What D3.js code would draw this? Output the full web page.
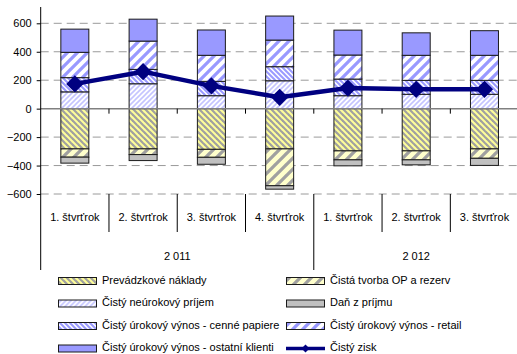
<!DOCTYPE html>
<html>
<head>
<meta charset="utf-8">
<script src="https://cdn.jsdelivr.net/npm/d3@7"></script>
<style>
  html, body { margin: 0; padding: 0; background: #fff; }
  svg { display: block; font-family: "Liberation Sans", Arial, sans-serif; }
</style>
</head>
<body>
<svg id="chart" width="517" height="354"></svg>
<script>
// Quarterly results (mil.), 2011–2012
const quarters = ["1. štvrťrok", "2. štvrťrok", "3. štvrťrok", "4. štvrťrok", "1. štvrťrok", "2. štvrťrok", "3. štvrťrok"];
const years = [{ label: "2 011", count: 4 }, { label: "2 012", count: 3 }];

const nonInterest   = [118, 175, 91, 196, 91, 101, 101];   // Čistý neúrokový príjem
const securities    = [100, 101, 101, 99, 117, 98, 98];     // Čistý úrokový výnos - cenné papiere
const retail        = [178, 199, 183, 187, 169, 176, 176];  // Čistý úrokový výnos - retail
const otherClients  = [163, 154, 178, 169, 175, 158, 173];  // Čistý úrokový výnos - ostatní klienti
const operatingCost = [-283, -283, -286, -283, -297, -297, -283]; // Prevádzkové náklady
const provisions    = [-58, -40, -56, -259, -63, -63, -66];  // Čistá tvorba OP a rezerv
const incomeTax     = [-42, -42, -49, -24, -42, -35, -50];   // Daň z príjmu
const netProfit     = [174, 260, 160, 80, 145, 136, 136];    // Čistý zisk

const yTicks = [-600, -400, -200, 0, 200, 400, 600];

const series = [
  { key: "nonInterest",   name: "Čistý neúrokový príjem",                values: nonInterest,   fill: "url(#pNonInterest)" },
  { key: "securities",    name: "Čistý úrokový výnos - cenné papiere",   values: securities,    fill: "url(#pSecurities)" },
  { key: "retail",        name: "Čistý úrokový výnos - retail",          values: retail,        fill: "url(#pRetail)" },
  { key: "otherClients",  name: "Čistý úrokový výnos - ostatní klienti", values: otherClients,  fill: "#9999ff" },
  { key: "operatingCost", name: "Prevádzkové náklady",                   values: operatingCost, fill: "url(#pCost)" },
  { key: "provisions",    name: "Čistá tvorba OP a rezerv",              values: provisions,    fill: "url(#pProvisions)" },
  { key: "incomeTax",     name: "Daň z príjmu",                          values: incomeTax,     fill: "#c0c0c0" }
];

const rows = quarters.map((q, i) => {
  const r = { idx: i };
  series.forEach(s => r[s.key] = s.values[i]);
  return r;
});

const svg = d3.select("#chart");
const defs = svg.append("defs");

function stripes(id, size, bg, fg, width, dir) {
  const p = defs.append("pattern").attr("id", id)
    .attr("patternUnits", "userSpaceOnUse")
    .attr("width", size).attr("height", size);
  p.append("rect").attr("width", size).attr("height", size).attr("fill", bg);
  const g = p.append("g").attr("stroke", fg).attr("stroke-width", width).attr("stroke-linecap", "square");
  if (dir === "down") {
    g.append("line").attr("x1", 0).attr("y1", 0).attr("x2", size).attr("y2", size);
    g.append("line").attr("x1", -size).attr("y1", 0).attr("x2", 0).attr("y2", size);
    g.append("line").attr("x1", size).attr("y1", 0).attr("x2", 2 * size).attr("y2", size);
  } else {
    g.append("line").attr("x1", 0).attr("y1", size).attr("x2", size).attr("y2", 0);
    g.append("line").attr("x1", -size).attr("y1", size).attr("x2", 0).attr("y2", 0);
    g.append("line").attr("x1", size).attr("y1", size).attr("x2", 2 * size).attr("y2", 0);
  }
}
stripes("pCost", 6, "#ffff99", "#a0a0a0", 2.2, "down");
stripes("pProvisions", 11, "#ffffcc", "#a0a0a0", 3.2, "up");
stripes("pNonInterest", 5, "#ffffff", "#c4c4ff", 1.6, "up");
stripes("pSecurities", 5, "#ffffff", "#9999ff", 2.0, "down");
stripes("pRetail", 10, "#ffffff", "#9999ff", 3.2, "up");

// Plot geometry
const plotLeft = 40.7, plotRight = 518.6, plotTop = 7;
const y = d3.scaleLinear().domain([-600, 600]).range([194, 23.3]);
const x = d3.scaleBand().domain(d3.range(quarters.length)).range([plotLeft, plotRight]).padding(0);
const barW = x.bandwidth() * 0.41;
const cx = i => x(i) + x.bandwidth() / 2;

// Gridlines
svg.append("g").selectAll("line").data(yTicks.filter(t => t !== 0)).join("line")
  .attr("x1", plotLeft).attr("x2", 517)
  .attr("y1", d => y(d)).attr("y2", d => y(d))
  .attr("stroke", "#9a9a9a").attr("stroke-width", 1)
  .attr("stroke-dasharray", "8,5");

// Stacked bars
const stack = d3.stack().keys(series.map(s => s.key)).offset(d3.stackOffsetDiverging);
const stacked = stack(rows);
const barG = svg.append("g");
stacked.forEach((layer, li) => {
  barG.append("g").selectAll("rect").data(layer).join("rect")
    .attr("x", (d, i) => cx(i) - barW / 2)
    .attr("width", barW)
    .attr("y", d => y(Math.max(d[0], d[1])))
    .attr("height", d => Math.abs(y(d[0]) - y(d[1])))
    .attr("fill", series[li].fill)
    .attr("stroke", "#1a1a1a").attr("stroke-width", 1);
});

// Zero line with category ticks
svg.append("line").attr("x1", plotLeft).attr("x2", 517)
  .attr("y1", y(0)).attr("y2", y(0))
  .attr("stroke", "#808080").attr("stroke-width", 1.5);
svg.append("g").selectAll("line").data(d3.range(1, quarters.length)).join("line")
  .attr("x1", i => x(i)).attr("x2", i => x(i))
  .attr("y1", y(0)).attr("y2", y(0) + 5)
  .attr("stroke", "#000").attr("stroke-width", 1);

// Y axis
const yAxis = d3.axisLeft(y).tickValues(yTicks).tickSize(4).tickPadding(5).tickFormat(d3.format("d"));
const yg = svg.append("g").attr("transform", `translate(${plotLeft},0)`).call(yAxis);
yg.select(".domain").remove();
yg.selectAll(".tick line").attr("stroke", "#000");
yg.selectAll("text").attr("font-size", 11).attr("fill", "#000")
  .attr("font-family", "'Liberation Sans', Arial, sans-serif");
svg.append("line").attr("x1", plotLeft).attr("x2", plotLeft)
  .attr("y1", plotTop).attr("y2", 270).attr("stroke", "#000").attr("stroke-width", 1);

// Category axis: quarter separators and year separators
const yearStarts = [];
let acc = 0;
years.forEach(yr => { yearStarts.push(acc); acc += yr.count; });
svg.append("g").selectAll("line").data(d3.range(1, quarters.length)).join("line")
  .attr("x1", i => x(i)).attr("x2", i => x(i))
  .attr("y1", y(-600)).attr("y2", i => yearStarts.includes(i) ? 270 : 232)
  .attr("stroke", "#000").attr("stroke-width", 1);

svg.append("g").selectAll("text").data(quarters).join("text")
  .attr("x", (d, i) => cx(i)).attr("y", 218)
  .attr("text-anchor", "middle").attr("dominant-baseline", "middle")
  .attr("font-size", 11).attr("fill", "#000")
  .text(d => d);

svg.append("g").selectAll("text").data(years).join("text")
  .attr("x", (d, k) => (x(yearStarts[k]) + x(yearStarts[k] + d.count - 1) + x.bandwidth()) / 2)
  .attr("y", 257)
  .attr("text-anchor", "middle").attr("dominant-baseline", "middle")
  .attr("font-size", 11).attr("fill", "#000")
  .text(d => d.label);

// Net profit line
const line = d3.line().x((d, i) => cx(i)).y(d => y(d));
svg.append("path").datum(netProfit)
  .attr("d", line).attr("fill", "none")
  .attr("stroke", "#000080").attr("stroke-width", 4.5).attr("stroke-linejoin", "round");
const diamond = d3.symbol().type(d3.symbolDiamond2).size(190);
svg.append("g").selectAll("path").data(netProfit).join("path")
  .attr("transform", (d, i) => `translate(${cx(i)},${y(d)}) rotate(0)`)
  .attr("d", diamond).attr("fill", "#000080");

// Legend
const legendItems = [
  series[4], series[5], series[0], series[6], series[1], series[2], series[3],
  { name: "Čistý zisk", isLine: true }
];
const colX = [58, 286], rowY = [281, 303.5, 326, 348.5];
const lg = svg.append("g").selectAll("g").data(legendItems).join("g")
  .attr("transform", (d, i) => `translate(${colX[i % 2]},${rowY[Math.floor(i / 2)]})`);
lg.each(function (d) {
  const g = d3.select(this);
  if (d.isLine) {
    g.append("line").attr("x1", 0).attr("x2", 39).attr("y1", 0).attr("y2", 0)
      .attr("stroke", "#000080").attr("stroke-width", 3.5);
    g.append("path").attr("transform", "translate(19.5,0)")
      .attr("d", d3.symbol().type(d3.symbolDiamond2).size(40)).attr("fill", "#000080");
  } else {
    g.append("rect").attr("x", 0.5).attr("y", -3.5).attr("width", 38).attr("height", 7)
      .attr("fill", d.fill).attr("stroke", "#1a1a1a").attr("stroke-width", 1);
  }
  g.append("text").attr("x", 44).attr("y", 0)
    .attr("dominant-baseline", "middle").attr("font-size", 11).attr("fill", "#000")
    .text(d.name);
});
</script>
</body>
</html>
